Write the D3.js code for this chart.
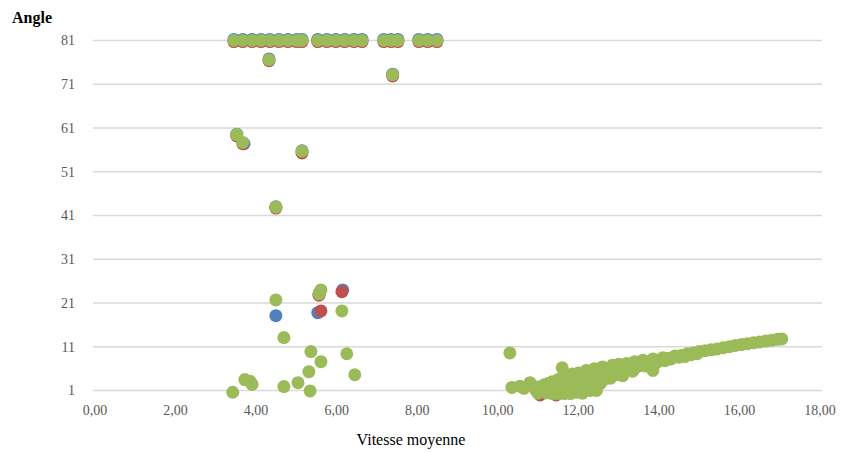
<!DOCTYPE html>
<html lang="fr">
<head>
  <meta charset="UTF-8" />
  <title>Angle / Vitesse moyenne</title>
  <script src="https://d3js.org/d3.v7.min.js"></script>
  <style>
    html, body {
      margin: 0;
      padding: 0;
      background: #fff;
    }
    svg { display: block; }
    .tick-label {
      font-family: "Liberation Serif", "DejaVu Serif", serif;
      font-size: 14px;
      fill: #595959;
    }
  </style>
</head>
<body>
  <svg id="chart" width="846" height="453"></svg>

  <script>
    // ---------------------------------------------------------
    // Data
    // ---------------------------------------------------------
    const xTicks = [0, 2, 4, 6, 8, 10, 12, 14, 16, 18];
    const yTicks = [1, 11, 21, 31, 41, 51, 61, 71, 81];

    // speeds of the row of points sitting on angle 81
    const topSpeeds = [3.45, 3.67, 3.90, 4.12, 4.34, 4.57, 4.79, 5.01, 5.14,
                       5.53, 5.76, 5.98, 6.20, 6.43, 6.63,
                       7.17, 7.35, 7.52,
                       8.04, 8.26, 8.49];

    // blue series
    const blueTopAngle = 81.25;
    const bluePoints = [
      [4.32, 76.8], [7.39, 73.3], [3.52, 59.6], [3.70, 57.4], [5.14, 55.8],
      [4.49, 43.0], [4.49, 18.1], [5.53, 18.8], [6.15, 24.0], [5.58, 23.4]
    ];

    // red series
    const redTopAngle = 80.75;
    const redPoints = [
      [4.32, 76.4], [7.39, 72.9], [3.52, 59.2], [3.67, 57.4], [5.14, 55.3],
      [4.49, 42.7], [5.56, 22.8], [5.61, 19.2], [6.13, 23.6],
      [11.05, 0.0], [11.45, 0.0]
    ];

    // green series
    const greenTopAngle = 81;
    const greenPoints = [
      [4.32, 76.6], [7.39, 73.2], [3.52, 59.5], [3.67, 57.7], [5.14, 55.7],
      [4.49, 42.9], [4.49, 21.7], [4.69, 13.1], [5.61, 24.0], [5.56, 23.1],
      [6.13, 19.2], [5.36, 9.9], [5.61, 7.6], [6.25, 9.4], [5.31, 5.3],
      [6.45, 4.6], [5.04, 2.8], [4.69, 1.9], [5.34, 0.9], [3.42, 0.6],
      [3.72, 3.5], [3.85, 3.1], [3.90, 2.4],
      [10.30, 9.6], [10.35, 1.7], [10.55, 2.0], [10.65, 1.5], [10.80, 2.8],
      [10.90, 2.0], [10.95, 1.0], [11.00, 0.4], [11.05, 1.8], [11.10, 1.5],
      [11.15, 2.3], [11.20, 0.5], [11.25, 2.6], [11.30, 1.2], [11.35, 3.0],
      [11.35, 0.3], [11.40, 0.4], [11.45, 2.0], [11.50, 3.5], [11.50, 0.3],
      [11.55, 1.0], [11.60, 6.2], [11.60, 2.6], [11.65, 0.3], [11.70, 4.2],
      [11.70, 0.8], [11.75, 2.8], [11.80, 1.8], [11.80, 0.3], [11.85, 4.8],
      [11.90, 3.2], [11.95, 0.6], [11.95, 3.8], [12.00, 2.4], [12.00, 5.0],
      [12.05, 1.5], [12.10, 4.0], [12.10, 0.4], [12.15, 1.2], [12.20, 5.6],
      [12.20, 2.2], [12.25, 3.0], [12.30, 1.0], [12.30, 4.0], [12.35, 4.6],
      [12.40, 6.0], [12.40, 2.2], [12.45, 1.0], [12.45, 4.8], [12.50, 3.4],
      [12.55, 5.2], [12.55, 2.6], [12.60, 6.4], [12.65, 3.6], [12.70, 4.4],
      [12.75, 5.8], [12.80, 3.8], [12.85, 6.8], [12.85, 5.8], [12.90, 5.0],
      [12.95, 6.2], [13.00, 7.0], [13.00, 4.6], [13.05, 6.0], [13.10, 4.4],
      [13.15, 5.4], [13.20, 7.2], [13.25, 6.0], [13.30, 6.6], [13.35, 5.4],
      [13.40, 7.6], [13.45, 6.4], [13.50, 7.0], [13.55, 6.8], [13.60, 7.9],
      [13.65, 6.6], [13.70, 7.5], [13.80, 7.2], [13.85, 5.6], [13.85, 8.2],
      [13.95, 7.4], [14.00, 8.0], [14.10, 8.5], [14.15, 7.8], [14.25, 8.4],
      [14.30, 8.2], [14.40, 8.9], [14.50, 8.6], [14.55, 9.0], [14.65, 8.8],
      [14.70, 9.4], [14.80, 9.2], [14.85, 9.6], [14.95, 9.4], [15.00, 9.9],
      [15.15, 10.1], [15.30, 10.3], [15.45, 10.5], [15.60, 10.8], [15.75, 11.0],
      [15.90, 11.3], [16.05, 11.5], [16.20, 11.7], [16.35, 11.9], [16.50, 12.1],
      [16.65, 12.3], [16.80, 12.5], [16.95, 12.7], [17.05, 12.8]
    ];

    const series = [
      { color: "#4F81BD", points: topSpeeds.map(v => [v, blueTopAngle]).concat(bluePoints) },
      { color: "#C0504D", points: topSpeeds.map(v => [v, redTopAngle]).concat(redPoints) },
      { color: "#9BBB59", points: topSpeeds.map(v => [v, greenTopAngle]).concat(greenPoints) }
    ];

    // ---------------------------------------------------------
    // Scales
    // ---------------------------------------------------------
    const svg = d3.select("#chart");
    svg.append("rect").attr("width", 846).attr("height", 453).attr("fill", "#fff");

    const x = d3.scaleLinear().domain([0, 18]).range([95, 820]);
    const y = d3.scaleLinear().domain([1, 81]).range([390.5, 40.5]);

    // ---------------------------------------------------------
    // Gridlines + tick labels
    // ---------------------------------------------------------
    const grid = svg.append("g");
    grid.selectAll("line")
      .data(yTicks)
      .join("line")
      .attr("x1", x(0) - 2)
      .attr("x2", x(18) + 2)
      .attr("y1", d => y(d))
      .attr("y2", d => y(d))
      .attr("stroke", "#d9d9d9")
      .attr("stroke-width", 1.3);

    svg.append("g").selectAll("text")
      .data(yTicks)
      .join("text")
      .attr("class", "tick-label")
      .attr("x", 75)
      .attr("y", d => y(d))
      .attr("dy", "0.35em")
      .attr("text-anchor", "end")
      .text(d => d);

    const fmt = d => d.toFixed(2).replace(".", ",");
    svg.append("g").selectAll("text")
      .data(xTicks)
      .join("text")
      .attr("class", "tick-label")
      .attr("x", d => x(d))
      .attr("y", 415)
      .attr("text-anchor", "middle")
      .text(fmt);

    // ---------------------------------------------------------
    // Axis titles
    // ---------------------------------------------------------
    svg.append("text")
      .attr("x", 12)
      .attr("y", 23)
      .attr("font-family", "'Liberation Serif', 'DejaVu Serif', serif")
      .attr("font-size", "16px")
      .attr("font-weight", "bold")
      .attr("fill", "#000")
      .text("Angle");

    svg.append("text")
      .attr("x", 411)
      .attr("y", 445)
      .attr("text-anchor", "middle")
      .attr("font-family", "'Liberation Serif', 'DejaVu Serif', serif")
      .attr("font-size", "16px")
      .attr("fill", "#000")
      .text("Vitesse moyenne");

    // ---------------------------------------------------------
    // Markers (blue, then red, then green on top)
    // ---------------------------------------------------------
    series.forEach(s => {
      svg.append("g").selectAll("circle")
        .data(s.points)
        .join("circle")
        .attr("cx", d => x(d[0]))
        .attr("cy", d => y(d[1]))
        .attr("r", 6.5)
        .attr("fill", s.color);
    });
  </script>
</body>
</html>
